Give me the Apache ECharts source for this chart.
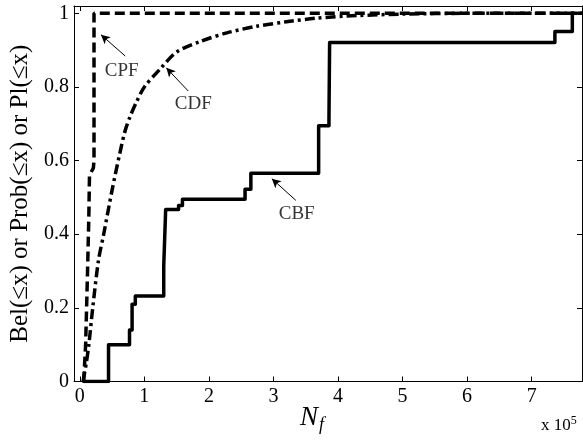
<!DOCTYPE html>
<html>
<head>
<meta charset="utf-8">
<script src="https://cdn.jsdelivr.net/npm/echarts@6/dist/echarts.min.js"></script>
<style>html,body{margin:0;padding:0;background:#fff;}#c{width:583px;height:441px;}</style>
</head>
<body>
<div id="c"></div>
<script>
// x values in units of 10^5
var xTicks = [0, 1, 2, 3, 4, 5, 6, 7];
var yTicks = [0, 0.2, 0.4, 0.6, 0.8, 1];

// CBF: staircase (x where it jumps, new value)
var cbfX = [0.06, 0.445, 0.77, 0.81, 0.86, 1.30, 1.33, 1.53, 1.59, 2.56, 2.65, 3.70, 3.86, 3.87, 7.36, 7.63, 7.70];
var cbfY = [0, 0.10, 0.14, 0.21, 0.232, 0.313, 0.467, 0.478, 0.495, 0.522, 0.566, 0.695, 0.715, 0.921, 0.951, 1.0, 1.0];

// CPF: dashed
var cpfX = [0.06, 0.09, 0.12, 0.14, 0.15, 0.21, 0.22, 0.22, 7.78];
var cpfY = [0, 0.10, 0.30, 0.45, 0.56, 0.58, 0.60, 1.0, 1.0];

// CDF: dash-dot
var cdfX = [0.05, 0.10, 0.14, 0.20, 0.29, 0.37, 0.50, 0.62, 0.70, 0.78, 0.88, 1.00, 1.25, 1.50, 1.87, 2.28, 2.74, 3.20, 3.67, 4.30, 5.00, 6.00, 7.78];
var cdfY = [0, 0.05, 0.10, 0.20, 0.33, 0.40, 0.52, 0.62, 0.68, 0.72, 0.76, 0.80, 0.85, 0.895, 0.924, 0.947, 0.965, 0.977, 0.987, 0.994, 0.998, 1.0, 1.0];

// annotations: label, label position, arrow tail, arrow tip
var annLabels = ['CPF', 'CDF', 'CBF'];
var annLabelX = [0.65, 1.757, 3.36];
var annLabelY = [0.843, 0.754, 0.454];
var annTailX = [0.704, 1.68, 3.347];
var annTailY = [0.884, 0.789, 0.492];
var annTipX = [0.328, 1.34, 2.975];
var annTipY = [0.942, 0.852, 0.551];

function zip(a, b) { return a.map(function (v, i) { return [v, b[i]]; }); }

var FONT = 'Liberation Serif';
var chart = echarts.init(document.getElementById('c'), null, {renderer: 'canvas'});

var axisCommon = {
  type: 'value',
  axisLine: {show: true, onZero: false, lineStyle: {color: '#000', width: 1}},
  axisTick: {show: true, inside: true, length: 5, lineStyle: {color: '#000', width: 1}},
  splitLine: {show: false}
};

var option = {
  animation: false,
  backgroundColor: '#fff',
  grid: {left: 74, right: 1, top: 6, bottom: 59.5, containLabel: false},
  xAxis: [
    Object.assign({}, axisCommon, {
      min: -0.09, max: 7.78, position: 'bottom',
      axisTick: Object.assign({}, axisCommon.axisTick, {customValues: xTicks}),
      axisLabel: {customValues: xTicks, color: '#000', fontFamily: FONT, fontSize: 20, margin: 5}
    }),
    Object.assign({}, axisCommon, {
      min: -0.09, max: 7.78, position: 'top',
      axisTick: Object.assign({}, axisCommon.axisTick, {customValues: xTicks}),
      axisLabel: {show: false}
    })
  ],
  yAxis: [
    Object.assign({}, axisCommon, {
      min: 0, max: 1.02, position: 'left',
      axisTick: Object.assign({}, axisCommon.axisTick, {customValues: yTicks}),
      axisLabel: {customValues: yTicks, color: '#000', fontFamily: FONT, fontSize: 20, margin: 5},
      name: 'Bel(≤x) or Prob(≤x) or Pl(≤x)',
      nameLocation: 'middle', nameGap: 36, nameRotate: 90,
      nameTextStyle: {color: '#000', fontFamily: FONT, fontSize: 25}
    }),
    Object.assign({}, axisCommon, {
      min: 0, max: 1.02, position: 'right',
      axisTick: Object.assign({}, axisCommon.axisTick, {customValues: yTicks}),
      axisLabel: {show: false}
    })
  ],
  graphic: [
    {type: 'text', left: 300, top: 404, style: {
      rich: {n: {fontFamily: FONT, fontSize: 27, fontStyle: 'italic', fill: '#000'},
             f: {fontFamily: FONT, fontSize: 18, fontStyle: 'italic', fill: '#000', padding: [15, 0, 0, 1]}},
      text: '{n|N}{f|f}'
    }},
    {type: 'text', left: 541, top: 415, style: {
      rich: {a: {fontFamily: FONT, fontSize: 17, fill: '#000'},
             b: {fontFamily: FONT, fontSize: 12, fill: '#000', padding: [0, 0, 9, 0]}},
      text: '{a|x 10}{b|5}'
    }}
  ],
  series: [
    {
      type: 'line', data: zip(cbfX, cbfY), step: 'end', showSymbol: false, symbol: 'none',
      lineStyle: {color: '#000', width: 3.5, type: 'solid', join: 'round', cap: 'round'}
    },
    {
      type: 'line', data: zip(cdfX, cdfY), showSymbol: false, symbol: 'none', smooth: 0.3,
      lineStyle: {color: '#000', width: 3.5, type: [10, 4, 3, 4], cap: 'butt'}
    },
    {
      type: 'line', data: zip(cpfX, cpfY), showSymbol: false, symbol: 'none',
      lineStyle: {color: '#000', width: 3.5, type: [10, 5], cap: 'butt'}
    },
    {
      type: 'line', data: [], silent: true,
      markLine: {
        silent: true, symbol: ['none', 'arrow'], symbolSize: [7, 9],
        label: {show: false},
        lineStyle: {color: '#000', width: 1, type: 'solid'},
        data: annLabels.map(function (l, i) {
          return [{coord: [annTailX[i], annTailY[i]]}, {coord: [annTipX[i], annTipY[i]]}];
        })
      }
    },
    {
      type: 'scatter', symbolSize: 0, silent: true, itemStyle: {color: '#000'},
      data: annLabels.map(function (l, i) { return {value: [annLabelX[i], annLabelY[i]], name: l}; }),
      label: {show: true, position: 'inside', formatter: '{b}', color: '#000',
              textBorderWidth: 0, textBorderColor: 'transparent',
              fontFamily: FONT, fontSize: 19}
    }
  ]
};
chart.setOption(option);
</script>
</body>
</html>
